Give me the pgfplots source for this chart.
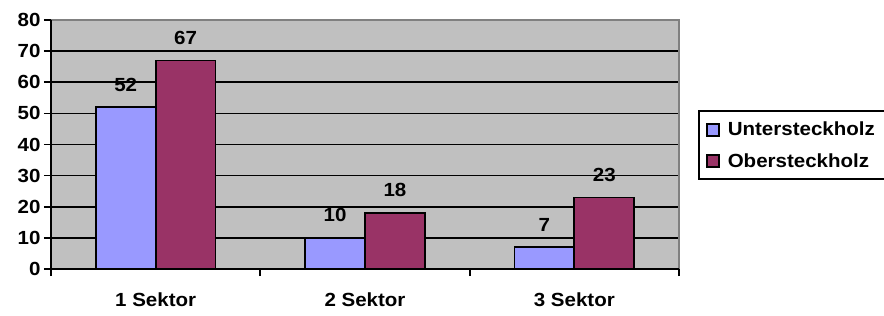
\documentclass[border=0pt]{standalone}
\usepackage{pgfplots}
\pgfplotsset{compat=1.18}
\usepackage{fontspec}
\setmainfont{Liberation Sans}[FakeStretch=1.08]
\definecolor{cblue}{HTML}{9999FF}
\definecolor{cred}{HTML}{993366}
\definecolor{plotbg}{HTML}{C0C0C0}
\definecolor{bordergray}{HTML}{808080}
\newcommand{\lf}{\fontsize{19}{22}\selectfont\bfseries}
\begin{document}
\begin{tikzpicture}
\useasboundingbox (0pt,0pt) rectangle (884pt,316pt);
\begin{axis}[
  at={(51pt,47pt)}, anchor=south west,
  scale only axis, width=628pt, height=249pt,
  clip=false,
  xmin=-0.5, xmax=2.5, ymin=0, ymax=80,
  ybar=0pt, bar width=0.286,
  ytick={0,10,...,80},
  xtick={-0.5,0.5,1.5,2.5},
  x tick label as interval,
  xticklabels={1 Sektor,2 Sektor,3 Sektor},
  xtick pos=bottom, ytick pos=left,
  tick align=outside, major tick length=7pt,
  tick style={black, line width=1.7pt},
  /pgf/number format/assume math mode=true,
  tick label style={font=\lf},
  yticklabel style={xshift=0pt},
  xticklabel style={yshift=-13pt},
  axis line style={draw=none},
  axis background/.style={fill=plotbg},
  ymajorgrids=true,
  major grid style={black, line width=1.7pt},
  nodes near coords,
  every node near coord/.append style={font=\lf, inner sep=0pt, yshift=15pt, black},
  legend style={at={(axis description cs:1.0318,0.6345)}, anchor=north west,
    draw=none, fill=none, font=\lf,
    inner xsep=7pt, inner ysep=9pt, row sep=12pt,
    /tikz/every odd column/.append style={column sep=6pt}},
  legend cell align=left,
  legend image code/.code={\draw[#1, line width=1.6pt] (0pt,-6pt) rectangle (12pt,6pt);},
]
\addplot[fill=cblue, draw=black, line width=1.7pt] coordinates {(0,52) (1,10) (2,7)};
\addplot[fill=cred, draw=black, line width=1.7pt] coordinates {(0,67) (1,18) (2,23)};
\legend{Untersteckholz,Obersteckholz}
\draw[bordergray, line width=2.2pt] (rel axis cs:0,1) -- (rel axis cs:1,1) -- (rel axis cs:1,0);
\draw[black, line width=1.7pt] (rel axis cs:0,1) -- (rel axis cs:0,0) -- (rel axis cs:1,0);
\draw[black, line width=1.7pt] (axis description cs:1.0318,0.6345) rectangle (axis description cs:1.40,0.3614);
\end{axis}
\end{tikzpicture}
\end{document}
